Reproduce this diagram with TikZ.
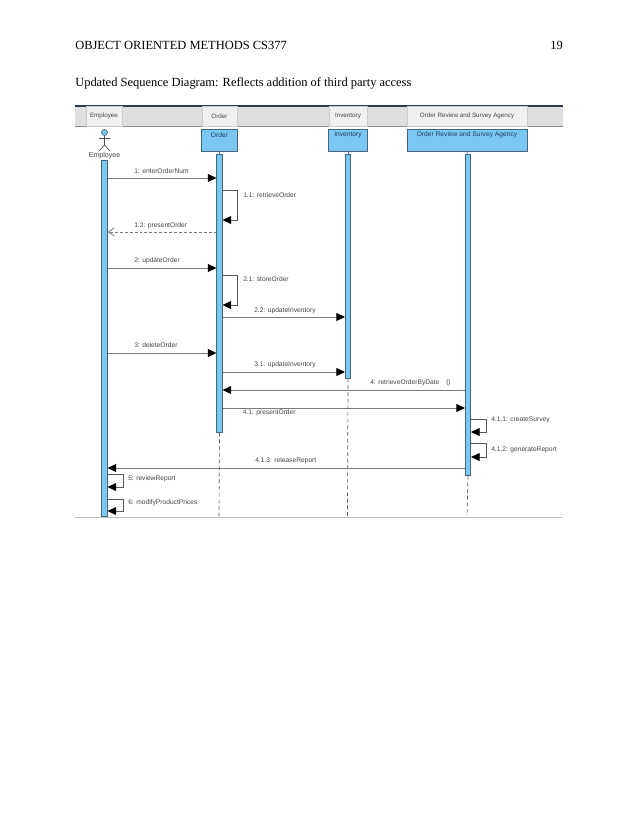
\documentclass[tikz,border=0pt]{standalone}
\usepackage{fontspec}
\setmainfont{Liberation Serif}
\setsansfont{Liberation Sans}
\usetikzlibrary{arrows.meta}
\definecolor{barblue}{HTML}{7AC8F2}
\definecolor{edgeblue}{HTML}{44677F}
\definecolor{linegray}{HTML}{7A7A7A}
\definecolor{labelgray}{HTML}{454545}
\definecolor{bandtop}{HTML}{2B3D4F}
\definecolor{boxtext}{HTML}{1F3F66}
\tikzset{
  x=0.75pt,y=-0.75pt,
  pagetext/.style={font=\rmfamily\fontsize{9.35}{11}\selectfont,text=black,inner sep=0,anchor=base west},
  headcell/.style={fill=black!6,draw=black!20,line width=0.4pt,inner sep=0,font=\sffamily\fontsize{4.7}{5}\selectfont,text=labelgray},
  lifebox/.style={fill=barblue,draw=edgeblue,line width=0.6pt,inner sep=0,minimum height=16.5pt,anchor=north},
  boxlabel/.style={font=\sffamily\fontsize{5}{6}\selectfont,text=boxtext,inner sep=0},
  actbar/.style={fill=barblue,draw=edgeblue,line width=0.5pt,inner sep=0,minimum width=4.1pt,anchor=north},
  msg/.style={draw=linegray,line width=0.75pt,-{Triangle[length=6.5pt,width=6pt,fill=black,color=black]}},
  reply/.style={draw=linegray,line width=0.6pt,dash pattern=on 2.2pt off 1.5pt,-{Straight Barb[length=4.5pt,width=6pt]}},
  selfmsg/.style={draw=black!65,line width=0.5pt,-{Triangle[length=6.5pt,width=6pt,fill=black,color=black]}},
  life/.style={draw=black!65,line width=0.5pt,dash pattern=on 3pt off 2pt},
  lbl/.style={font=\sffamily\fontsize{5.0}{6}\selectfont,text=labelgray,inner sep=0,anchor=west},
}
\begin{document}
\begin{tikzpicture}
\useasboundingbox[fill=white] (0,0) rectangle (638,826);
% page text
\node[pagetext] (runhead) at (75,49) {OBJECT ORIENTED METHODS CS377};
\node[pagetext,anchor=base east] (pageno) at (563,49) {19};
\node[pagetext] (caption) at (75,86.5) {Updated Sequence Diagram: Reflects addition of third party access};
% band
\fill[black!13] (75,106) rectangle (563,126);
\draw[bandtop,line width=0.8pt] (75,106) -- (563,106);
\draw[black!45,line width=0.6pt] (75,126) -- (563,126);
\draw[black!25,line width=0.7pt] (75,517) -- (563,517);
% header cells
\node[headcell,minimum width=27pt,minimum height=15pt] (hE) at (104,116) {Employee};
\node[headcell,minimum width=26.5pt,minimum height=15pt] (hO) at (219.5,116) {Order};
\node[headcell,minimum width=28.5pt,minimum height=15pt] (hI) at (348,116) {Inventory};
\node[headcell,minimum width=90pt,minimum height=15pt] (hR) at (467,116) {Order Review and Survey Agency};
% lifeline boxes
\node[lifebox,minimum width=27pt] (bO) at (219.5,129) {};
\node[lifebox,minimum width=29pt] (bI) at (348,129) {};
\node[lifebox,minimum width=90pt] (bR) at (467,129) {};
\node[boxlabel] (tO) at (219.5,135) {Order};
\node[boxlabel] (tI) at (348,135) {Inventory};
\node[boxlabel] (tR) at (467,135) {Order Review and Survey Agency};
% actor
\draw[edgeblue,fill=barblue,line width=0.5pt] (104.5,132.5) circle (3);
\draw[black!70,line width=0.45pt] (104.5,135.5) -- (104.5,145) (99,138.5) -- (110,138.5) (99,151) -- (104.5,145) -- (110,151);
\node[font=\sffamily\fontsize{5.3}{6}\selectfont,text=labelgray,inner sep=0] (aE) at (104.5,155.5) {Employee};
% activation bars
\node[actbar,minimum height=267pt] (aEmp) at (104.5,160) {};
\node[actbar,minimum height=208.5pt] (aOrd) at (219.5,154) {};
\node[actbar,minimum height=168pt] (aInv) at (348,154) {};
\node[actbar,minimum height=240.75pt] (aRev) at (468,154) {};
% lifelines
\draw[black!60,line width=0.4pt] (bO.south) -- (aOrd.north);
\draw[black!60,line width=0.4pt] (bI.south) -- (aInv.north);
\draw[black!60,line width=0.4pt] (bR.south) -- (aRev.north);
\coordinate (endO) at (219,516);
\coordinate (endI) at (347.5,516);
\coordinate (endR) at (467,516);
\draw[life] (aOrd.south) -- (endO);
\draw[life] (aInv.south) -- (endI);
\draw[life] (aRev.south) -- (endR);
% messages
\draw[msg] (aEmp.east |- 0,178) -- (aOrd.west |- 0,178);
\node[lbl] (l1) at (134,171) {1: enterOrderNum};
\draw[selfmsg] (aOrd.east |- 0,190) -- (237,190) -- (237,220) -- (aOrd.east |- 0,220);
\node[lbl] (l11) at (243,195) {1.1: retrieveOrder};
\draw[reply] (aOrd.west |- 0,232) -- (aEmp.east |- 0,232);
\node[lbl] (l12) at (134,225.5) {1.2: presentOrder};
\draw[msg] (aEmp.east |- 0,268) -- (aOrd.west |- 0,268);
\node[lbl] (l2) at (134,260.5) {2: updateOrder};
\draw[selfmsg] (aOrd.east |- 0,275) -- (237,275) -- (237,305) -- (aOrd.east |- 0,305);
\node[lbl] (l21) at (243,279.5) {2.1: storeOrder};
\draw[msg] (aOrd.east |- 0,317) -- (aInv.west |- 0,317);
\node[lbl] (l22) at (254,310.5) {2.2: updateInventory};
\draw[msg] (aEmp.east |- 0,353) -- (aOrd.west |- 0,353);
\node[lbl] (l3) at (134,345.5) {3: deleteOrder};
\draw[msg] (aOrd.east |- 0,372) -- (aInv.west |- 0,372);
\node[lbl] (l31) at (254,364.5) {3.1: updateInventory};
\draw[msg] (aRev.west |- 0,390) -- (aOrd.east |- 0,390);
\node[lbl] (l4) at (370,382.5) {4: retrieveOrderByDate};
\node[lbl] (l4b) at (446,382.5) {()};
\draw[msg] (aOrd.east |- 0,408) -- (aRev.west |- 0,408);
\node[lbl] (l41) at (242.5,412.5) {4.1: presentOrder};
\draw[selfmsg] (aRev.east |- 0,419) -- (486,419) -- (486,432) -- (aRev.east |- 0,432);
\node[lbl] (l411) at (491,419.5) {4.1.1: createSurvey};
\draw[selfmsg] (aRev.east |- 0,443) -- (486,443) -- (486,457) -- (aRev.east |- 0,457);
\node[lbl] (l412) at (491,449.5) {4.1.2: generateReport};
\draw[msg] (aRev.west |- 0,468) -- (aEmp.east |- 0,468);
\node[lbl] (l413) at (255,461) {4.1.3: releaseReport};
\draw[selfmsg] (aEmp.east |- 0,474) -- (123,474) -- (123,487) -- (aEmp.east |- 0,487);
\node[lbl] (l5) at (128,479) {5: reviewReport};
\draw[selfmsg] (aEmp.east |- 0,499) -- (123,499) -- (123,511) -- (aEmp.east |- 0,511);
\node[lbl] (l6) at (128,503) {6: modifyProductPrices};
\end{tikzpicture}
\end{document}
